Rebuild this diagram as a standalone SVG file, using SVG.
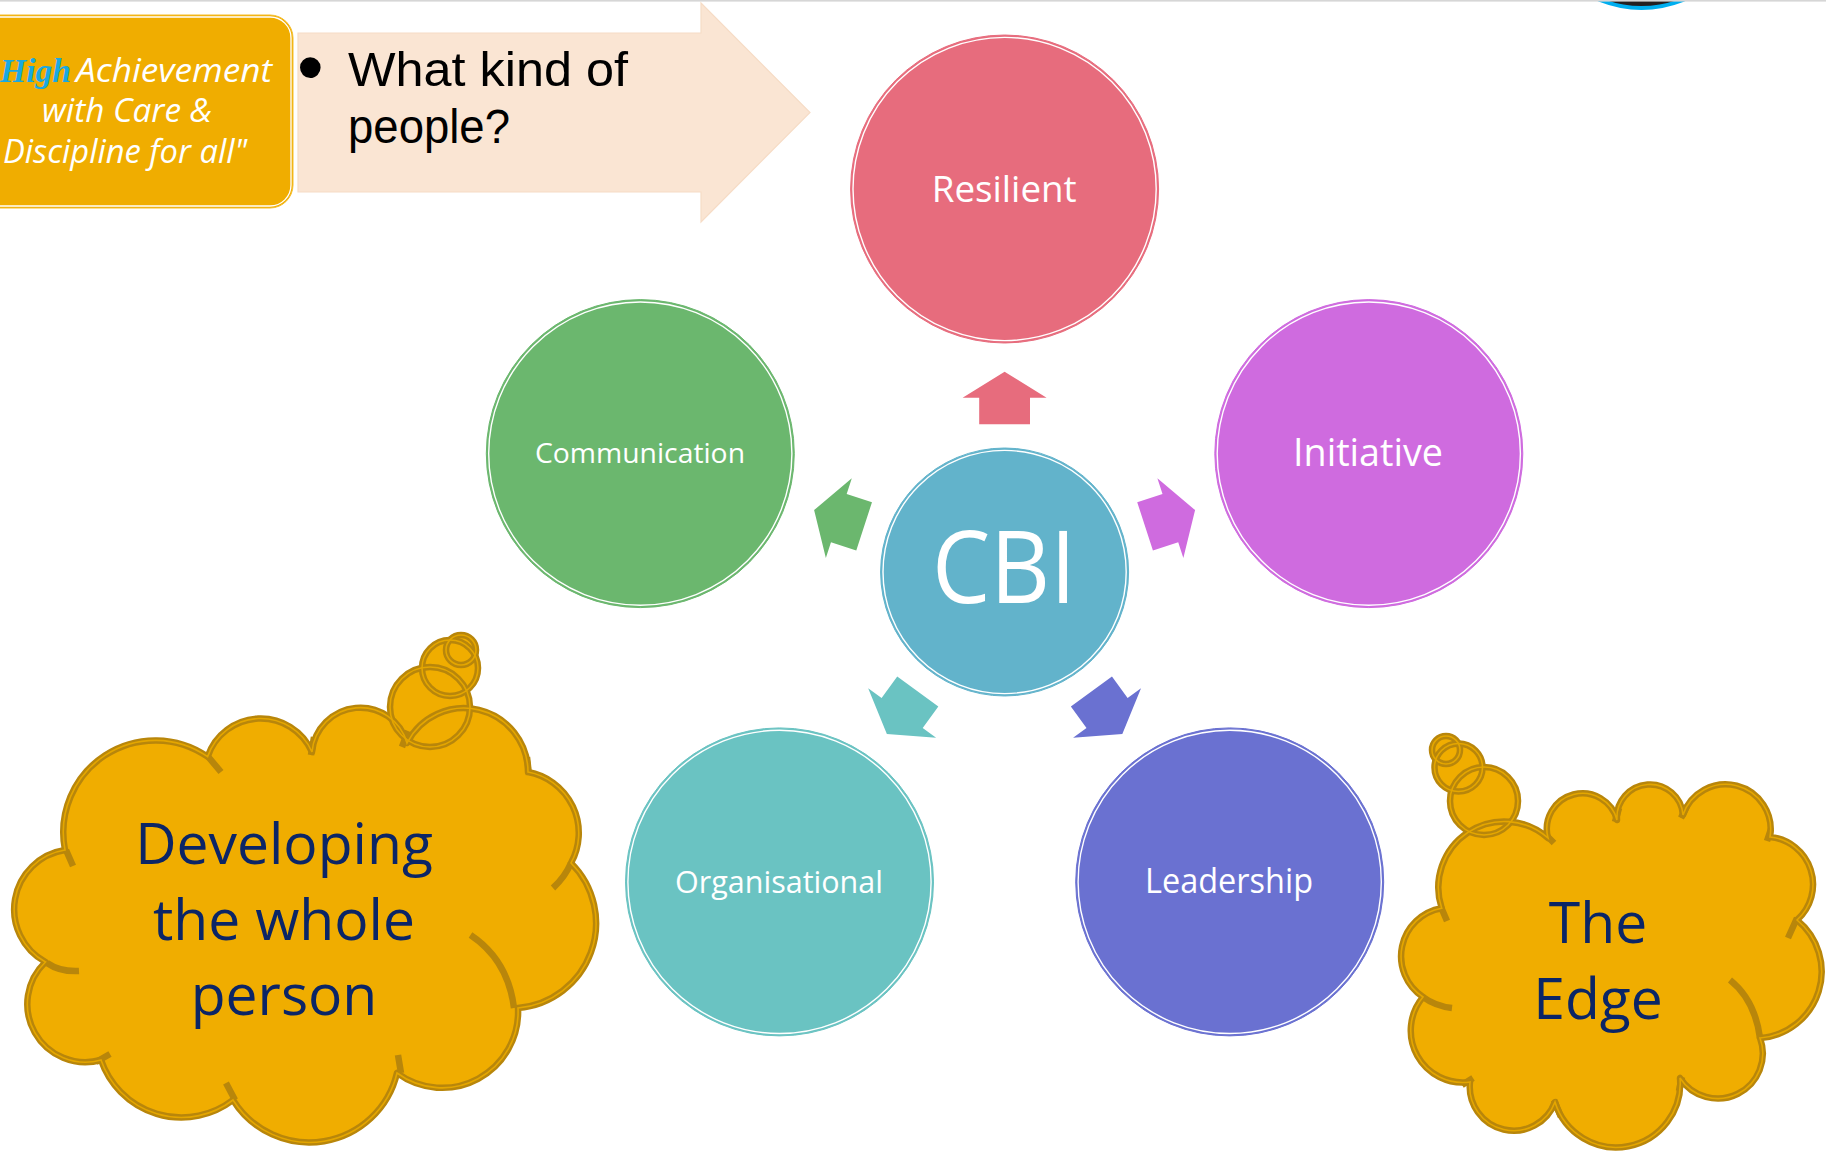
<svg xmlns="http://www.w3.org/2000/svg" width="1826" height="1153" viewBox="0 0 1826 1153">
<style>
.lbl{font-family:"Open Sans","DejaVu Sans",sans-serif;fill:#ffffff;text-anchor:middle}
.cl{font-family:"Open Sans","DejaVu Sans",sans-serif;fill:#0b2566;text-anchor:middle;font-size:57px}
.ring{fill:none;stroke:#ffffff;stroke-width:1.4}
.cfill{fill:#f0ad00;stroke:none}
.cline{fill:none;stroke:#b8860b;stroke-width:6.5;stroke-linejoin:round}
.cin{fill:none;stroke:#e4a600;stroke-width:1.6}
.mot{font-family:"Open Sans","DejaVu Sans",sans-serif;font-style:italic;fill:#ffffff;font-size:33px}
</style>
<defs>
<path id="arw" d="M 979.2 424.3 L 979.2 397.7 L 962.6 397.7 L 1004.6 371.7 L 1046.6 397.7 L 1030 397.7 L 1030 424.3 Z"/>
<path id="cloudL" d="M 65 850 A 92 92 0 0 1 207.6 756.7 A 56 56 0 0 1 312 752 A 48.5 48.5 0 0 1 407 743 A 64 64 0 0 1 528 772 A 62 62 0 0 1 571 863 A 85 85 0 0 1 518 1008 A 76 76 0 0 1 397 1073 A 90 90 0 0 1 233 1100 A 85 85 0 0 1 101 1060 A 58 58 0 0 1 45.5 962 A 60 60 0 0 1 65 850 Z"/>
<path id="extL" d="M 205 753 L 221 772 M 311 755 L 314 737 M 402 747 L 408 731 M 527 757 L 529 775 M 571 863 Q 565 877 553 888 M 470.5 935 Q 508 960 514 1008 M 398 1055 L 401 1073 M 226 1083 L 235 1100 M 96 1062 L 110 1054 M 47 963 Q 60 972 79 971 M 66 850 L 73 866"/>
<path id="cloudR" d="M 1441.7 908.3 A 66 66 0 0 1 1548 838 A 35 35 0 0 1 1617 820 A 33 33 0 0 1 1683 815 A 45 45 0 0 1 1770 837 A 47.6 47.6 0 0 1 1797 920 A 66.5 66.5 0 0 1 1760 1038 A 45 45 0 0 1 1680 1078 A 64 64 0 0 1 1555 1102 A 44 44 0 0 1 1470 1082 A 52 52 0 0 1 1423 997 A 48.7 48.7 0 0 1 1441.7 908.3 Z"/>
<path id="extR" d="M 1543 832 L 1554 843 M 1615 822 L 1619 808 M 1681 818 L 1687 806 M 1767 841 L 1771 829 M 1797 918 L 1788 938 M 1730 980 Q 1755 1000 1760 1038 M 1682 1077 L 1679 1091 M 1554 1100 L 1561 1117 M 1462 1085 L 1473 1078 M 1423 997 Q 1435 1006 1452 1008 M 1441 907 L 1447 921"/>
</defs>
<rect x="0" y="0" width="1826" height="1153" fill="#ffffff"/>

<g id="logo">
<circle cx="1641.5" cy="-103" r="111" fill="#231f20" stroke="#00aeef" stroke-width="4"/>
</g>
<rect x="0" y="0" width="1826" height="1.6" fill="#d6d6d6"/>

<g id="motto">
<rect x="-40" y="15" width="333" height="193" rx="23" fill="#f0ad00" stroke="#f5bd2a" stroke-width="1"/>
<rect x="-38" y="17" width="329" height="189" rx="21" fill="none" stroke="#ffffff" stroke-width="1.3"/>
<text x="0" y="82" font-family="'Liberation Serif',serif" font-weight="bold" font-style="italic" font-size="34" fill="#1aa9e1" textLength="71" lengthAdjust="spacingAndGlyphs">High</text>
<text class="mot" x="76" y="82" textLength="196" lengthAdjust="spacingAndGlyphs">Achievement</text>
<text class="mot" x="42" y="122" textLength="170" lengthAdjust="spacingAndGlyphs">with Care &amp;</text>
<text class="mot" x="3" y="163" textLength="244" lengthAdjust="spacingAndGlyphs">Discipline for all"</text>
</g>

<g id="question">
<path d="M 298 33 L 701 33 L 701 3 L 810 112.5 L 701 222 L 701 192 L 298 192 Z" fill="#fae5d3" stroke="#f6dcc6" stroke-width="1.2"/>
<text font-family="'Liberation Sans',Arial,sans-serif" font-size="49" fill="#000000"><tspan x="297" y="93" font-size="76">•</tspan><tspan x="348" y="86" textLength="280" lengthAdjust="spacingAndGlyphs">What kind of</tspan><tspan x="348" y="143" textLength="162" lengthAdjust="spacingAndGlyphs">people?</tspan></text>
</g>

<g id="connectors">
<use href="#arw" fill="#e76c7d"/>
<use href="#arw" fill="#cf6bdf" transform="rotate(72 1004.6 572)"/>
<use href="#arw" fill="#6a71d1" transform="rotate(144 1004.6 572)"/>
<use href="#arw" fill="#6ac3c2" transform="rotate(216 1004.6 572)"/>
<use href="#arw" fill="#6bb76e" transform="rotate(288 1004.6 572)"/>
</g>

<g id="cbi">
<circle cx="1004.6" cy="572" r="124" fill="#62b3cb" stroke="#62b3cb" stroke-width="1"/>
<circle class="ring" cx="1004.6" cy="572" r="121.6"/>
<text class="lbl" x="1004" y="603" font-size="100" textLength="144" lengthAdjust="spacingAndGlyphs">CBI</text>
</g>

<g id="resilient">
<circle cx="1004.6" cy="189" r="154" fill="#e76c7d" stroke="#e76c7d" stroke-width="1"/>
<circle class="ring" cx="1004.6" cy="189" r="151.6"/>
<text class="lbl" x="1004.2" y="201.7" font-size="37" textLength="145" lengthAdjust="spacingAndGlyphs">Resilient</text>
</g>

<g id="initiative">
<circle cx="1368.8" cy="453.6" r="154" fill="#cf6bdf" stroke="#cf6bdf" stroke-width="1"/>
<circle class="ring" cx="1368.8" cy="453.6" r="151.6"/>
<text class="lbl" x="1368" y="466" font-size="38" textLength="150" lengthAdjust="spacingAndGlyphs">Initiative</text>
</g>

<g id="leadership">
<circle cx="1229.7" cy="881.9" r="154" fill="#6a71d1" stroke="#6a71d1" stroke-width="1"/>
<circle class="ring" cx="1229.7" cy="881.9" r="151.6"/>
<text class="lbl" x="1229" y="892.7" font-size="34" textLength="168" lengthAdjust="spacingAndGlyphs">Leadership</text>
</g>

<g id="organisational">
<circle cx="779.5" cy="881.9" r="154" fill="#6ac3c2" stroke="#6ac3c2" stroke-width="1"/>
<circle class="ring" cx="779.5" cy="881.9" r="151.6"/>
<text class="lbl" x="779" y="892.7" font-size="31" textLength="208" lengthAdjust="spacingAndGlyphs">Organisational</text>
</g>

<g id="communication">
<circle cx="640.3" cy="453.6" r="154" fill="#6bb76e" stroke="#6bb76e" stroke-width="1"/>
<circle class="ring" cx="640.3" cy="453.6" r="151.6"/>
<text class="lbl" x="640" y="463" font-size="28" textLength="210" lengthAdjust="spacingAndGlyphs">Communication</text>
</g>

<g id="cloud-whole-person">
<use href="#cloudL" class="cfill"/>
<circle class="cfill" cx="430" cy="707" r="40"/>
<circle class="cfill" cx="450" cy="668" r="28"/>
<circle class="cfill" cx="461" cy="650" r="15"/>
<use href="#cloudL" class="cline"/>
<use href="#extL" class="cline"/>
<circle class="cline" cx="430" cy="707" r="40"/>
<circle class="cline" cx="450" cy="668" r="28"/>
<circle class="cline" cx="461" cy="650" r="15"/>
<use href="#cloudL" class="cin"/>
<circle class="cin" cx="430" cy="707" r="40"/>
<circle class="cin" cx="450" cy="668" r="28"/>
<circle class="cin" cx="461" cy="650" r="15"/>
<text class="cl" x="284" y="864">Developing</text>
<text class="cl" x="284" y="940">the whole</text>
<text class="cl" x="284" y="1015">person</text>
</g>

<g id="cloud-edge">
<use href="#cloudR" class="cfill"/>
<circle class="cfill" cx="1484" cy="801" r="34"/>
<circle class="cfill" cx="1458.5" cy="767.5" r="24"/>
<circle class="cfill" cx="1446" cy="750" r="14"/>
<use href="#cloudR" class="cline"/>
<use href="#extR" class="cline"/>
<circle class="cline" cx="1484" cy="801" r="34"/>
<circle class="cline" cx="1458.5" cy="767.5" r="24"/>
<circle class="cline" cx="1446" cy="750" r="14"/>
<use href="#cloudR" class="cin"/>
<circle class="cin" cx="1484" cy="801" r="34"/>
<circle class="cin" cx="1458.5" cy="767.5" r="24"/>
<circle class="cin" cx="1446" cy="750" r="14"/>
<text class="cl" x="1598" y="943" font-size="58">The</text>
<text class="cl" x="1598" y="1019" font-size="58">Edge</text>
</g>
</svg>
